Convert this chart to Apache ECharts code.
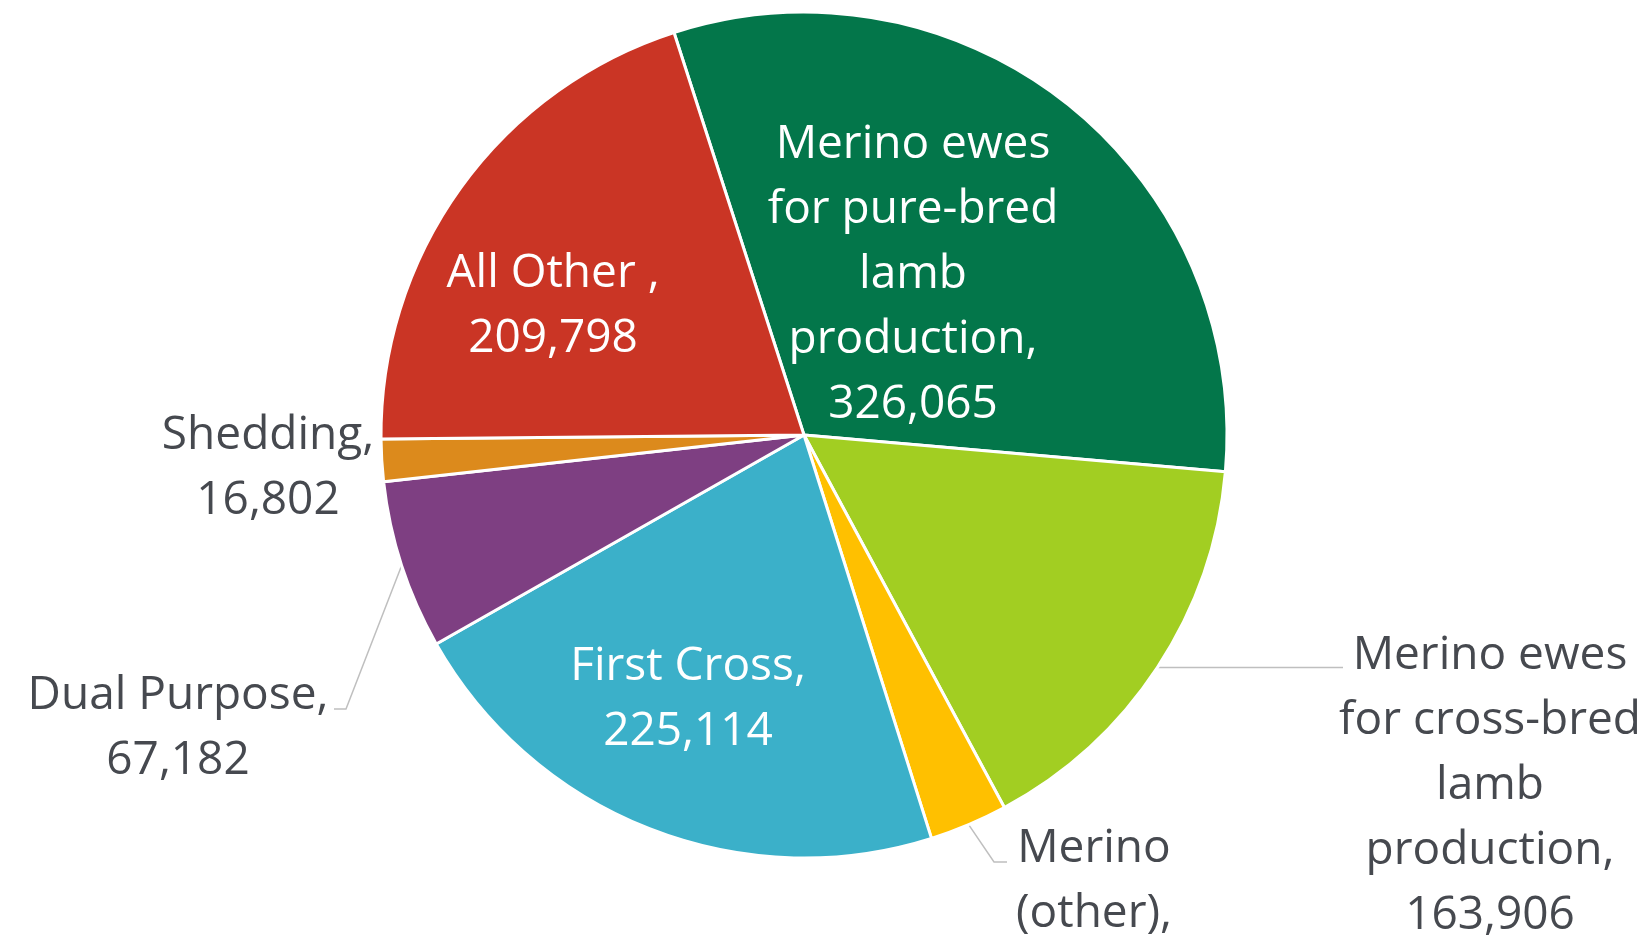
<!DOCTYPE html>
<html><head><meta charset="utf-8">
<script src="https://cdn.jsdelivr.net/npm/echarts@6/dist/echarts.min.js"></script>
<style>html,body{margin:0;padding:0;background:#fff}#c{width:1645px;height:944px}</style>
</head><body><div id="c"></div>
<script>
// ---- data ----
const categories = ['Merino ewes for pure-bred lamb production', 'Merino ewes for cross-bred lamb production', 'Merino (other)', 'First Cross', 'Dual Purpose', 'Shedding', 'All Other '];
const values = [326065, 163906, 31000, 225114, 67182, 16802, 209798];
const labelNames = ['Merino ewes\nfor pure-bred\nlamb\nproduction,', 'Merino ewes\nfor cross-bred\nlamb\nproduction,', 'Merino\n(other),', 'First Cross,', 'Dual Purpose,', 'Shedding,', 'All Other ,'];
const colors = ['#03764A', '#A2CE22', '#FFC000', '#3BB0C9', '#7E3F82', '#DC8A1C', '#CA3525'];

// ---- layout / style ----
const CX = 804, CY = 435, R = 423, START = 107.9;
const FONT = '"Open Sans", "Noto Sans", sans-serif';
const TEXT_DARK = '#46494F';
const placement = [
  { x: 913, y: 275, inside: true },
  { x: 1490, y: 786, line: [[1343, null]] },
  { x: 1094, y: 914, line: [[994, 862], [1007, 862]] },
  { x: 688, y: 699, inside: true },
  { x: 178, y: 728, line: [[346, 709], [334, 709]] },
  { x: 268, y: 468, noLine: true },
  { x: 553, y: 306, inside: true }
];

const total = values.reduce((a, b) => a + b, 0);
const edgePts = [];
let cum = 0;
values.forEach(v => {
  const th = (START - (cum + v / 2) / total * 360) * Math.PI / 180;
  edgePts.push([CX + R * Math.cos(th), CY - R * Math.sin(th)]);
  cum += v;
});

const fmt = n => n.toLocaleString('en-US');

const data = categories.map((c, i) => {
  const p = placement[i];
  return {
    name: c,
    value: values[i],
    itemStyle: { color: colors[i] },
    label: {
      formatter: labelNames[i] + '\n' + fmt(values[i]),
      color: p.inside ? '#ffffff' : TEXT_DARK
    },
    labelLine: { show: !(p.inside || p.noLine) }
  };
});

const chart = echarts.init(document.getElementById('c'), null, { renderer: 'canvas' });
chart.setOption({
  backgroundColor: '#ffffff',
  animation: false,
  series: [{
    type: 'pie',
    center: [CX, CY],
    radius: R,
    startAngle: START,
    clockwise: true,
    avoidLabelOverlap: false,
    itemStyle: { borderColor: '#ffffff', borderWidth: 3 },
    label: {
      show: true,
      position: 'outside',
      fontFamily: FONT,
      fontSize: 46,
      lineHeight: 65,
      align: 'center'
    },
    labelLine: { show: true, lineStyle: { color: '#BFBFBF', width: 1.5 } },
    emphasis: { disabled: true },
    data: data,
    labelLayout: function (params) {
      const i = params.dataIndex;
      const p = placement[i];
      const out = { x: p.x, y: p.y, align: 'center', verticalAlign: 'middle' };
      if (p.line) {
        const e = edgePts[i];
        const pts = [e];
        p.line.forEach(q => pts.push([q[0], q[1] == null ? e[1] : q[1]]));
        if (pts.length === 2) pts.splice(1, 0, [(e[0] + pts[1][0]) / 2, e[1]]);
        out.labelLinePoints = pts;
      }
      return out;
    }
  }]
});
</script>
</body></html>
